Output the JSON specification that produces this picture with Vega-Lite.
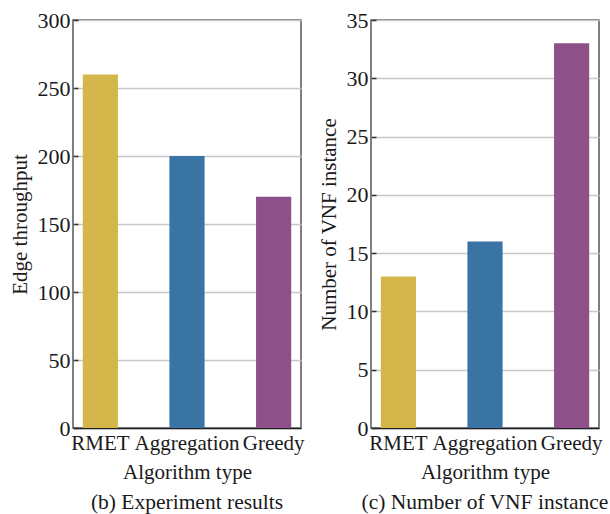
{
  "$schema": "https://vega.github.io/schema/vega-lite/v6.json",
  "background": "white",
  "padding": {"left": 8, "top": 8, "right": 2, "bottom": 0},
  "datasets": {
    "results": [
      {"algorithm": "RMET", "throughput": 260, "vnf": 13},
      {"algorithm": "Aggregation", "throughput": 200, "vnf": 16},
      {"algorithm": "Greedy", "throughput": 170, "vnf": 33}
    ]
  },
  "config": {
    "font": "Liberation Serif",
    "view": {"stroke": "#555555", "strokeWidth": 1.5},
    "axis": {
      "labelFont": "Liberation Serif",
      "titleFont": "Liberation Serif",
      "labelFontSize": 22,
      "titleFontSize": 21,
      "titleFontWeight": "normal",
      "labelColor": "#1a1a1a",
      "titleColor": "#1a1a1a",
      "tickColor": "#333333",
      "tickWidth": 1.5,
      "tickSize": -5,
      "domain": false,
      "gridColor": "#c8c8c8",
      "gridWidth": 1.5
    },
    "axisX": {"labelAngle": 0, "labelFontSize": 21, "grid": false, "domain": true, "domainColor": "#222222", "domainWidth": 1.5, "labelPadding": 9, "titlePadding": 8, "zindex": 1},
    "axisY": {"labelPadding": 8, "titlePadding": 7},
    "title": {"font": "Liberation Serif", "fontSize": 21.5, "fontWeight": "normal", "color": "#1a1a1a", "orient": "bottom", "anchor": "middle", "offset": 10}
  },
  "spacing": 12,
  "hconcat": [
    {
      "width": 228,
      "height": 408,
      "data": {"name": "results"},
      "title": {"text": "(b) Experiment results"},
      "mark": {"type": "bar"},
      "encoding": {
        "x": {"field": "algorithm", "type": "nominal", "sort": null, "title": "Algorithm type", "scale": {"paddingInner": 0.594, "paddingOuter": 0.113}},
        "y": {"field": "throughput", "type": "quantitative", "title": "Edge throughput", "scale": {"domain": [0, 300], "nice": false}, "axis": {"values": [0, 50, 100, 150, 200, 250, 300]}},
        "color": {"field": "algorithm", "type": "nominal", "scale": {"domain": ["RMET", "Aggregation", "Greedy"], "range": ["#D4B74B", "#3A74A4", "#8D5088"]}, "legend": null}
      }
    },
    {
      "width": 228,
      "height": 408,
      "data": {"name": "results"},
      "title": {"text": "(c) Number of VNF instance"},
      "mark": {"type": "bar"},
      "encoding": {
        "x": {"field": "algorithm", "type": "nominal", "sort": null, "title": "Algorithm type", "scale": {"paddingInner": 0.594, "paddingOuter": 0.113}},
        "y": {"field": "vnf", "type": "quantitative", "title": "Number of VNF instance", "scale": {"domain": [0, 35], "nice": false}, "axis": {"values": [0, 5, 10, 15, 20, 25, 30, 35]}},
        "color": {"field": "algorithm", "type": "nominal", "scale": {"domain": ["RMET", "Aggregation", "Greedy"], "range": ["#D4B74B", "#3A74A4", "#8D5088"]}, "legend": null}
      }
    }
  ]
}
